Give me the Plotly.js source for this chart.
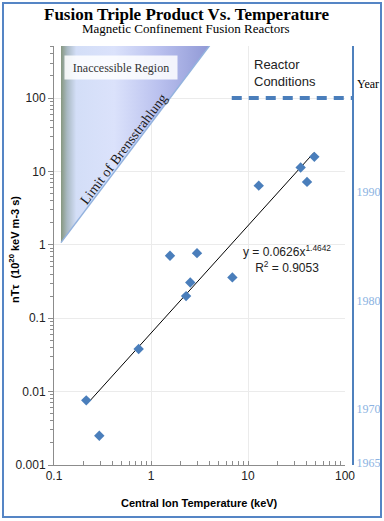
<!DOCTYPE html>
<html>
<head>
<meta charset="utf-8">
<script src="https://cdn.plot.ly/plotly-3.0.1.min.js"></script>
<style>
  html, body { margin: 0; padding: 0; background: #fff; }
  #chart { width: 384px; height: 521px; }
  #frame { position: absolute; left: 2px; top: 2px; width: 376px; height: 512px;
           border: 2px solid #5585c5; pointer-events: none; }
</style>
</head>
<body>
<div id="chart"></div>
<div id="frame"></div>
<script>
// measured reactors: central ion temperature (keV) vs triple product (1e20 keV m-3 s)
var temps = [0.215, 0.293, 0.746, 1.57, 2.30, 2.54, 2.98, 6.9, 12.9, 34.9, 40.6, 48.3];
var ntau  = [0.0076, 0.0025, 0.038, 0.71, 0.20, 0.307, 0.77, 0.36, 6.4, 11.3, 7.2, 15.8];

// power-law fit shown on the chart
var fitA = 0.0626, fitB = 1.4642, fitR2 = 0.9053;
var fitX = [0.235, 48];

// bremsstrahlung limit (ends of the boundary line)
var limitX = [0.118, 4.37];
var limitY = [1.07, 600];

// reactor conditions level
var reactorLevel = 100;
var reactorFromT = 6.8;

// year scale on the right
var yearTicks = [1965, 1970, 1980, 1990];
var yearRange = [1964.82, 2003.47];

var X_RANGE = [-1, 2];
var Y_RANGE = [-3, 2.709];

// plot area in pixels (for placing text)
var L = 54, T = 46, PW = 299, PH = 419;
function px(x) { return (x - L) / PW; }
function py(y) { return (T + PH - y) / PH; }
function xPaper(v) { return (Math.log10(v) - X_RANGE[0]) / (X_RANGE[1] - X_RANGE[0]) * (291 / 299); }
function yPaper(v) { return (Math.log10(v) - Y_RANGE[0]) / (Y_RANGE[1] - Y_RANGE[0]); }

var sans = 'Liberation Sans, Arial, sans-serif';
var serif = 'Liberation Serif, Times New Roman, serif';
var blue = '#4a7ebb';
var axisGray = '#8c8c8c';

function note(x, y, text, font, extra) {
  var a = {xref: 'paper', yref: 'paper', x: px(x), y: py(y), showarrow: false,
           xanchor: 'center', yanchor: 'middle', text: text, font: font};
  for (var k in extra) a[k] = extra[k];
  return a;
}

var traces = [
  {
    x: [limitX[0], limitX[1], limitX[0], limitX[0]],
    y: [limitY[0], limitY[1], limitY[1], limitY[0]],
    mode: 'lines', fill: 'toself', line: {width: 0},
    fillcolor: '#c8d0f2',
    fillgradient: {type: 'horizontal', colorscale: [
      [0, '#86977f'], [0.04, '#a9b9c2'], [0.1, '#d3def7'], [0.35, '#dbe2fb'],
      [0.65, '#b9c0ee'], [1, '#8d96d4']]},
    hoverinfo: 'skip'
  },
  {
    x: limitX, y: limitY, mode: 'lines',
    line: {color: '#93b2de', width: 1.5}, hoverinfo: 'skip'
  },
  {
    x: fitX, y: fitX.map(function (t) { return fitA * Math.pow(t, fitB); }),
    mode: 'lines', line: {color: '#000', width: 1}
  },
  {
    x: temps, y: ntau, mode: 'markers', type: 'scatter',
    marker: {symbol: 'diamond', size: 8, color: blue}
  },
  {
    x: [1], y: [yearTicks[2]], yaxis: 'y2', mode: 'markers',
    marker: {opacity: 0}, hoverinfo: 'skip'
  }
];

var layout = {
  width: 384, height: 521,
  margin: {l: L, r: 384 - L - PW, t: T, b: 521 - T - PH},
  paper_bgcolor: '#fff', plot_bgcolor: '#fff',
  showlegend: false,
  font: {family: sans, size: 12, color: '#222'},
  xaxis: {
    type: 'log', range: X_RANGE, domain: [0, 291 / 299], dtick: 1,
    exponentformat: 'none', zeroline: false,
    showgrid: true, gridcolor: '#ebebeb',
    showline: true, linecolor: axisGray, linewidth: 1,
    ticks: 'inside', ticklen: 4, tickcolor: axisGray,
    minor: {ticks: 'inside', ticklen: 4, tickcolor: axisGray, showgrid: false},
    tickfont: {family: sans, size: 12, color: '#222'}
  },
  yaxis: {
    type: 'log', range: Y_RANGE, dtick: 1,
    exponentformat: 'none', zeroline: false,
    showgrid: true, gridcolor: '#ebebeb',
    showline: true, linecolor: axisGray, linewidth: 1,
    ticks: 'outside', ticklen: 5, tickcolor: axisGray,
    minor: {ticks: 'outside', ticklen: 3, tickcolor: axisGray, showgrid: false},
    tickfont: {family: sans, size: 12, color: '#222'}
  },
  yaxis2: {
    overlaying: 'y', anchor: 'free', position: 1, side: 'right',
    range: yearRange, tickvals: yearTicks, ticks: '',
    showgrid: false, zeroline: false,
    showline: true, linecolor: '#4f81bd', linewidth: 2,
    tickfont: {family: serif, size: 12, color: '#8db3e2'}
  },
  shapes: [
    {type: 'line', xref: 'paper', yref: 'paper',
     x0: xPaper(reactorFromT), x1: 1, y0: yPaper(reactorLevel), y1: yPaper(reactorLevel),
     line: {color: blue, width: 4, dash: '10px,7px'}}
  ],
  annotations: [
    note(187, 15, '<b>Fusion Triple Product Vs. Temperature</b>',
         {family: serif, size: 17, color: '#000'}),
    note(186, 28.5, 'Magnetic Confinement Fusion Reactors',
         {family: serif, size: 13, color: '#000'}),
    note(14, 250, '<b>nTτ  (10<sup>20</sup> keV m-3 s)</b>',
         {family: sans, size: 11, color: '#000'}, {textangle: -90}),
    note(199, 503, '<b>Central Ion Temperature (keV)</b>',
         {family: sans, size: 11, color: '#000'}),
    note(121, 67.5, 'Inaccessible Region',
         {family: serif, size: 12, color: '#333'},
         {width: 110, height: 21, bgcolor: 'rgba(255,255,255,0.85)'}),
    note(123, 149, 'Limit of Brensstrahlung',
         {family: serif, size: 14, color: '#1a1a1a'}, {textangle: -53}),
    note(252, 73, 'Reactor<br>Conditions',
         {family: sans, size: 13, color: '#222'}, {xanchor: 'left', align: 'left'}),
    note(368, 84, 'Year', {family: serif, size: 12, color: '#000'}),
    note(287, 259, 'y = ' + fitA + 'x<sup>' + fitB + '</sup><br>R<sup>2</sup> = ' + fitR2,
         {family: sans, size: 12, color: '#222'})
  ]
};

Plotly.newPlot('chart', traces, layout, {staticPlot: true});
</script>
</body>
</html>
